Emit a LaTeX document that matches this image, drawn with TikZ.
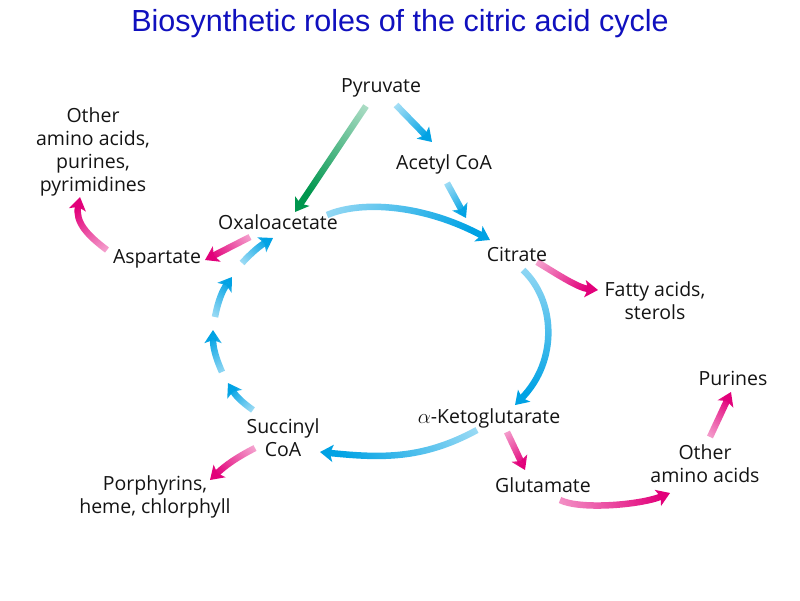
\documentclass[tikz,border=0pt]{standalone}
\usepackage{fontspec}
\setmainfont{Open Sans}
\newfontfamily\titlefont{Liberation Sans}
\usetikzlibrary{arrows.meta,calc,fadings}
\definecolor{titleblue}{RGB}{16,16,190}
\definecolor{cycleblue}{RGB}{0,162,228}
\definecolor{synthpink}{RGB}{226,0,122}
\definecolor{carbgreen}{RGB}{0,150,78}
\pgfdeclarehorizontalshading{fadeshade}{100bp}{color(0bp)=(pgftransparent!90);
    color(70bp)=(pgftransparent!0); color(100bp)=(pgftransparent!0)}
\pgfdeclarefading{fadein}{\pgfuseshading{fadeshade}}
\tikzstyle{metab} = [inner sep=1pt, align=center, text=black!92,
    font=\fontsize{19.5}{23}\selectfont]
\tikzstyle{flow} = [line width=6.5pt, path fading=fadein,
    -{Stealth[length=13pt,width=17pt,inset=3pt]}]
\tikzstyle{blueflow} = [flow, draw=cycleblue]
\tikzstyle{pinkflow} = [flow, draw=synthpink]
\tikzstyle{greenflow} = [flow, draw=carbgreen]

\begin{document}
\begin{tikzpicture}[x=1pt,y=-1pt]
\useasboundingbox (0,0) rectangle (800,600);

\node [text=titleblue, font=\titlefont\fontsize{30.5}{34}\selectfont] (title) at (400,24)
    {Biosynthetic roles of the citric acid cycle};

\node [metab] (pyruvate) at (381,88) {Pyruvate};
\node [metab] (acetyl) at (444,164) {Acetyl CoA};
\node [metab] (oxalo) at (278,222) {Oxaloacetate};
\node [metab] (citrate) at (517,254) {Citrate};
\node [metab] (ketoglu) at (489,418) {$\alpha$-Ketoglutarate};
\node [metab] (succinyl) at (283,438) {Succinyl\\CoA};
\node [metab] (aspartate) at (157,259) {Aspartate};
\node [metab] (otheraa) at (93,152) {Other\\amino acids,\\purines,\\pyrimidines};
\node [metab] (fatty) at (655,301) {Fatty acids,\\sterols};
\node [metab] (glutamate) at (543,485) {Glutamate};
\node [metab] (otheraab) at (705,464) {Other\\amino acids};
\node [metab] (purines) at (733,378) {Purines};
\node [metab] (porph) at (155,497) {Porphyrins,\\heme, chlorphyll};

\draw [blueflow, fading angle=-46] ($(pyruvate)+(15,17)$) -- ($(acetyl)+(-12,-22)$);
\draw [blueflow, fading angle=-61] ($(acetyl)+(3,19)$) -- ($(citrate)+(-51,-36)$);
\draw [blueflow, fading angle=-9] ($(oxalo)+(49,-7)$)
    .. controls +(35,-15) and +(-65,-35) .. ($(citrate)+(-27,-14)$);
\draw [blueflow, fading angle=-93] ($(citrate)+(6,16)$)
    .. controls +(32,30) and +(44,-45) .. ($(ketoglu)+(26,-13)$);
\draw [blueflow, fading angle=189] ($(ketoglu)+(-12,12)$)
    .. controls +(-55,30) and +(60,6) .. ($(succinyl)+(37,14)$);
\draw [blueflow, fading angle=133] ($(succinyl)+(-30,-28)$) to [bend left=12] ($(succinyl)+(-55,-55)$);
\draw [blueflow, fading angle=102] ($(succinyl)+(-61,-66)$) to [bend left=12] ($(succinyl)+(-70,-108)$);
\draw [blueflow, fading angle=67] ($(oxalo)+(-63,95)$) to [bend left=12] ($(oxalo)+(-46,55)$);
\draw [blueflow, fading angle=39] ($(oxalo)+(-36,41)$) to [bend left=8] ($(oxalo)+(-5,16)$);

\draw [greenflow, fading angle=236] ($(pyruvate)+(-15,18)$) -- ($(oxalo)+(17,-10)$);

\draw [pinkflow, fading angle=207] ($(oxalo)+(-28,15)$) -- ($(aspartate)+(48,1)$);
\draw [pinkflow, fading angle=117] ($(aspartate)+(-50,-9)$)
    .. controls +(-20,-15) and +(-5,25) .. ($(otheraa)+(-13,45)$);
\draw [pinkflow, fading angle=-25] ($(citrate)+(20,8)$)
    .. controls +(20,12) and +(-20,-2) .. ($(fatty)+(-57,-11)$);
\draw [pinkflow, fading angle=-65] ($(ketoglu)+(18,14)$) -- ($(glutamate)+(-18,-15)$);
\draw [pinkflow, fading angle=4] ($(glutamate)+(17,15)$)
    .. controls +(20,10) and +(-30,12) .. ($(otheraab)+(-35,29)$);
\draw [pinkflow, fading angle=65] ($(otheraab)+(5,-27)$) -- ($(purines)+(-2,14)$);
\draw [pinkflow, fading angle=215] ($(succinyl)+(-28,10)$) to [bend right=8] ($(porph)+(55,-17)$);

\end{tikzpicture}
\end{document}
